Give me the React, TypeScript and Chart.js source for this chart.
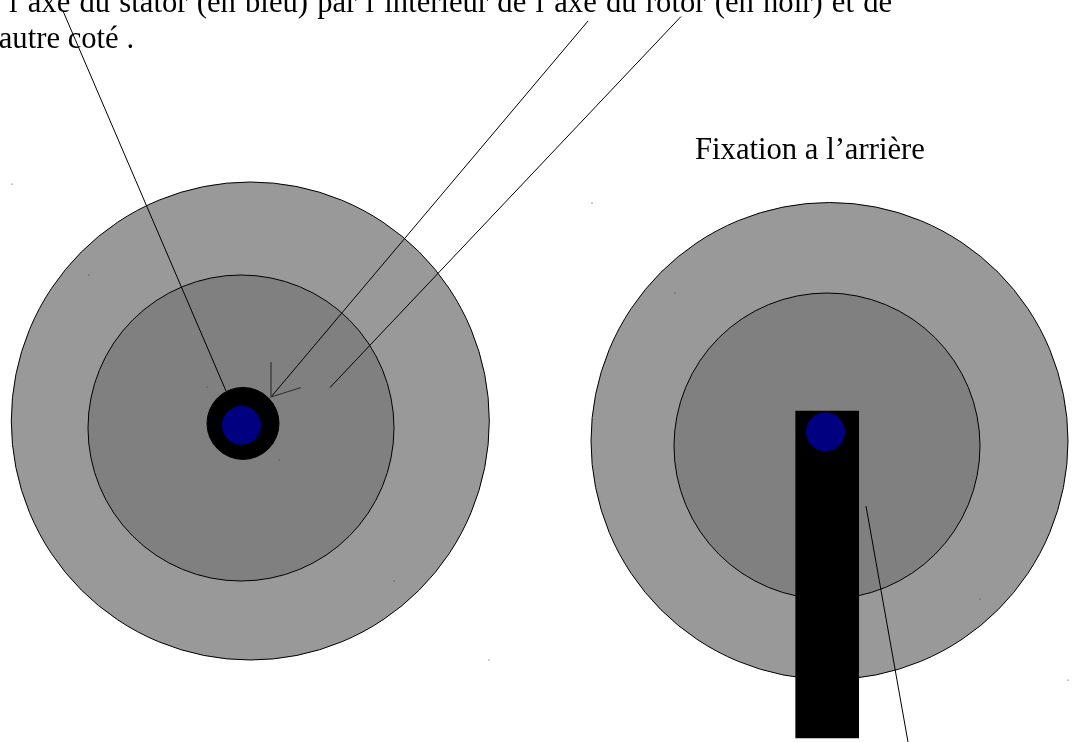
import React, { useEffect, useRef } from "react";
import { Chart, registerables } from "chart.js";

Chart.register(...registerables);

const WIDTH = 1073;
const HEIGHT = 742;

// Discs: outer left, inner left, outer right, inner right, rotor axle
const discX = [250.3, 241, 829.5, 827, 243];
const discY = [421, 428, 441, 446, 423.4];
const discR = [239, 153, 238.5, 153, 36];
const discColors = ["#999999", "#808080", "#999999", "#808080", "#000000"];

// Stator axes
const axleX = [241.5, 825.5];
const axleY = [425.3, 431.7];
const axleR = [19.5, 19.5];

// Bracket
const bracketX = [827.2];
const bracketTop = [411];
const bracketBottom = [738];

// Leader lines
const leaderA = [{ x: 63, y: 11 }, { x: 226, y: 391 }];
const leaderB = [{ x: 588, y: 21 }, { x: 271, y: 397 }];
const leaderC = [{ x: 681, y: 16.5 }, { x: 330, y: 387.5 }];
const leaderD = [{ x: 866, y: 506 }, { x: 908, y: 742 }];
const arrowHead = [{ x: 271, y: 362 }, { x: 271, y: 397 }, { x: 301, y: 387.5 }];

// Tiny specks left in the drawing
const speckX = [12, 89, 207, 279, 394, 489, 592, 675, 980, 1068];
const speckY = [184, 275, 387, 460, 581, 660, 203, 293, 599, 680];

const textLines = [
  "l’axe du stator (en bleu) par l’intérieur de l’axe du rotor (en noir) et de",
  "l’autre coté .",
  "Fixation a l’arrière",
];
const textX = [9, -20, 695];
const textY = [12, 48, 159];
const textWordSpacing = ["1.55px", "0px", "0px"];

const labelsPlugin = {
  id: "captions",
  beforeDatasetsDraw(chart: any) {
    const { ctx, scales } = chart;
    ctx.save();
    ctx.fillStyle = "#000000";
    ctx.font = '30.67px "Liberation Serif"';
    ctx.textBaseline = "alphabetic";
    ctx.textAlign = "left";
    textLines.forEach((t, i) => {
      ctx.wordSpacing = textWordSpacing[i];
      ctx.fillText(t, scales.x.getPixelForValue(textX[i]), scales.y.getPixelForValue(textY[i]));
    });
    ctx.restore();
  },
};

const line = (data: { x: number; y: number }[], order: number, color = "#000000", width = 1) => ({
  type: "line" as const,
  data,
  order,
  borderColor: color,
  borderWidth: width,
  pointRadius: 0,
  fill: false,
  tension: 0,
});

export default function App() {
  const ref = useRef<HTMLCanvasElement>(null);

  useEffect(() => {
    if (!ref.current) return;
    const chart = new Chart(ref.current, {
      type: "bubble",
      data: {
        datasets: [
          ...discX.slice(0, 4).map((x, i) => ({
            type: "bubble" as const,
            data: [{ x, y: discY[i], r: discR[i] }],
            order: 10 - i,
            backgroundColor: discColors[i],
            borderColor: "#000000",
            borderWidth: 1,
            clip: false,
          })),
          {
            type: "bar" as const,
            data: bracketX.map((x, i) => ({ x, y: [bracketTop[i], bracketBottom[i]] })),
            order: 6,
            backgroundColor: "#000000",
            borderWidth: 0,
            barThickness: 63,
          },
          {
            type: "bubble" as const,
            data: [{ x: discX[4], y: discY[4], r: discR[4] }],
            order: 5,
            backgroundColor: discColors[4],
            borderColor: "#000000",
            borderWidth: 1,
          },
          {
            type: "bubble" as const,
            data: axleX.map((x, i) => ({ x, y: axleY[i], r: axleR[i] })),
            order: 4,
            backgroundColor: "#000080",
            borderWidth: 0,
          },
          line(leaderA, 3),
          line(leaderB, 3),
          line(leaderC, 3),
          line(leaderD, 3),
          line(arrowHead, 2, "#333333", 1.2),
          {
            type: "scatter" as const,
            data: speckX.map((x, i) => ({ x, y: speckY[i] })),
            order: 1,
            pointRadius: 0.6,
            pointBorderWidth: 0,
            pointBackgroundColor: "#333333",
            showLine: false,
          },
        ],
      } as any,
      options: {
        animation: false,
        responsive: false,
        events: [],
        layout: { padding: 0, autoPadding: false },
        plugins: { legend: { display: false }, tooltip: { enabled: false }, title: { display: false } },
        scales: {
          x: { type: "linear", min: 0, max: WIDTH, display: false, offset: false },
          y: { type: "linear", min: 0, max: HEIGHT, reverse: true, display: false },
        },
      } as any,
      plugins: [labelsPlugin],
    });
    return () => chart.destroy();
  }, []);

  return (
    <canvas
      ref={ref}
      width={WIDTH}
      height={HEIGHT}
      style={{ position: "fixed", left: 0, top: 0, width: WIDTH, height: HEIGHT, display: "block" }}
    />
  );
}
